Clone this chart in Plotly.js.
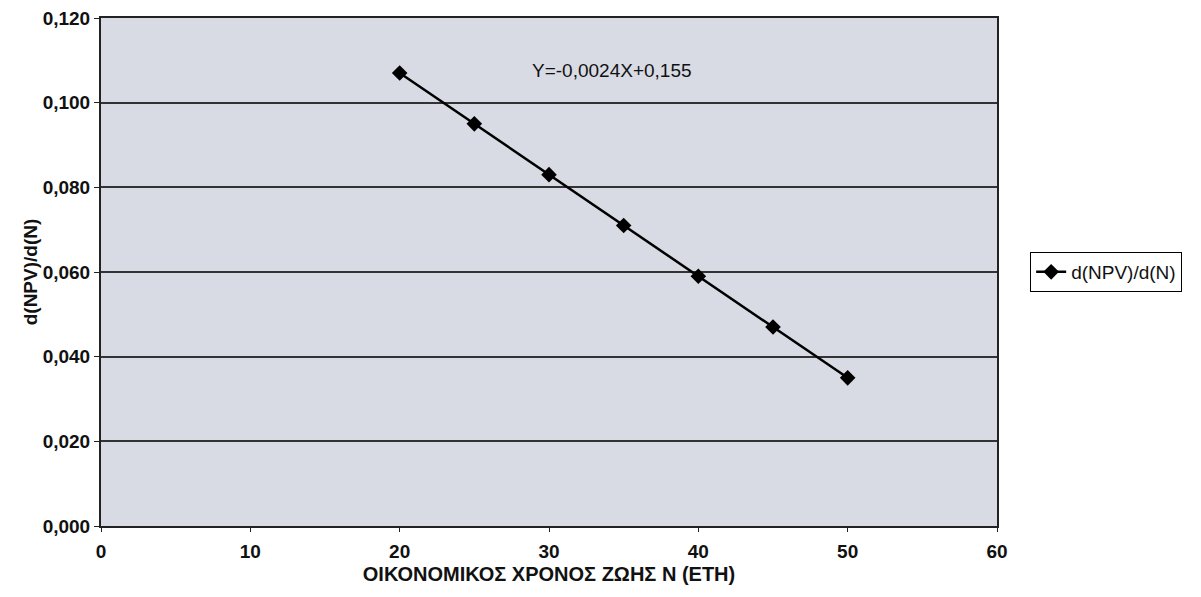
<!DOCTYPE html>
<html>
<head>
<meta charset="utf-8">
<script src="https://cdn.plot.ly/plotly-3.0.1.min.js"></script>
<style>
  html, body { margin: 0; padding: 0; background: #fff; }
  #chart { width: 1201px; height: 597px; }
</style>
</head>
<body>
<div id="chart"></div>
<script>
// economic life N (years) and slope of NPV
const lifeYears = [20, 25, 30, 35, 40, 45, 50];
const dNpvdN = [0.107, 0.095, 0.083, 0.071, 0.059, 0.047, 0.035];
const seriesName = 'd(NPV)/d(N)';
const fitLabel = 'Y=-0,0024X+0,155';
const fitPos = [34.2, 0.1077];

const font = 'Arial, "Liberation Sans", sans-serif';

const trace = {
  x: lifeYears,
  y: dNpvdN,
  name: seriesName,
  type: 'scatter',
  mode: 'lines+markers',
  line: { color: '#000', width: 2.5 },
  marker: { symbol: 'diamond', size: 12, color: '#000' },
};

const layout = {
  width: 1201,
  height: 597,
  margin: { l: 101, r: 204, t: 18, b: 71 },
  paper_bgcolor: '#fff',
  plot_bgcolor: '#d8dbe4',
  separators: ',.',
  font: { family: font, size: 19, color: '#111' },
  showlegend: true,
  legend: {
    x: 1.037, y: 0.5, xanchor: 'left', yanchor: 'middle',
    bgcolor: '#fff', bordercolor: '#000', borderwidth: 1,
    font: { family: font, size: 19, color: '#111' },
  },
  xaxis: {
    range: [0, 60],
    dtick: 10,
    showgrid: false,
    zeroline: false,
    showline: true, mirror: true, linecolor: '#222', linewidth: 2,
    ticks: 'outside', ticklen: 4, tickcolor: '#222',
    ticklabelstandoff: 3,
    tickfont: { family: font, size: 19, weight: 'bold', color: '#111' },
    title: { text: 'ΟΙΚΟΝΟΜΙΚΟΣ ΧΡΟΝΟΣ ΖΩΗΣ Ν (ΕΤΗ)', standoff: 6,
      font: { family: font, size: 20, weight: 'bold', color: '#111' } },
  },
  yaxis: {
    range: [0, 0.12],
    dtick: 0.02,
    tickformat: '.3f',
    showgrid: true, gridcolor: '#333', gridwidth: 2,
    zeroline: false,
    showline: true, mirror: true, linecolor: '#222', linewidth: 2,
    ticks: 'outside', ticklen: 5, tickcolor: '#222',
    tickfont: { family: font, size: 19, weight: 'bold', color: '#111' },
    title: { text: 'd(NPV)/d(N)', standoff: 0,
      font: { family: font, size: 19, weight: 'bold', color: '#111' } },
  },
  annotations: [{
    x: fitPos[0], y: fitPos[1], xref: 'x', yref: 'y',
    text: fitLabel, showarrow: false,
    font: { family: font, size: 19, color: '#111' },
  }],
};

Plotly.newPlot('chart', [trace], layout, { displayModeBar: false, staticPlot: true });
</script>
</body>
</html>
